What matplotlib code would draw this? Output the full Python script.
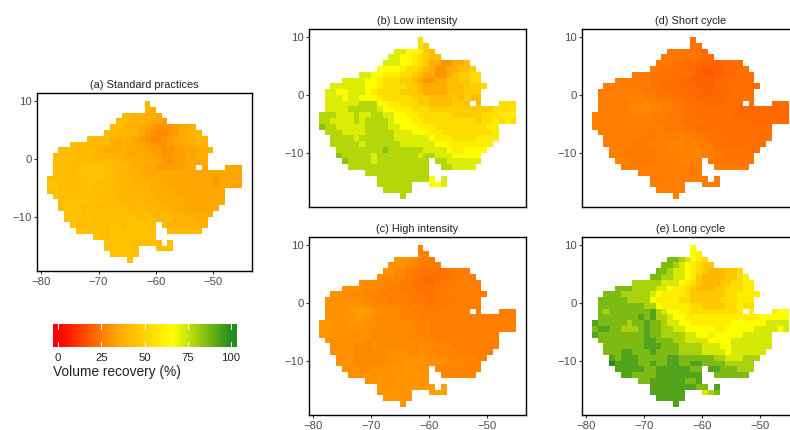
import numpy as np
import matplotlib
matplotlib.use("Agg")
import matplotlib.pyplot as plt
from matplotlib.colors import LinearSegmentedColormap

plt.rcParams["font.family"] = ["Liberation Sans", "DejaVu Sans"]

# first filled column of each row, rows go from lat 9.5 down to -17.5
row_start = [17, 17, 13, 12, 11, 10, 7, 4, 2, 1, 1, 1, 1, 0, 0, 0, 1, 2, 2, 3, 3, 4, 5, 8, 10, 10, 11, 14]

# volume recovery per 1 degree cell, read off the picture as levels 0-9, "." = no data
rows_a = ["5", "54", "66554 43", "77655 4332", "77655 43211 12345", "77665 53210 01234 55",
          "77665 45432 10012 34456 5", "77766 65434 43322 11233 4455",
          "77766 76544 44333 32211 22334 45", "77776 77666 55444 43321 12233 44",
          "77776 77777 66554 44332 12233 34", "77777 88887 76654 43322 22234 .3... 333",
          "77778 88887 76655 44333 33333 33333 333", "77777 77888 77666 55444 33333 33332 3333",
          "88777 77877 76665 55544 43333 33332 3333", "78777 77877 77666 55544 44333 33333 3",
          "87777 87777 76666 55544 44433 33333", "78888 77877 76666 55544 44333 3334",
          "78887 87777 77667 66555 44333 334", "88877 77778 77777 65665 54444 4",
          "78888 77877 78877 76675 55544", "87787 77887 88887 .6555 5555",
          "88777 78888 8887. .6666 66", "87788 88888 8", "88888 77787 .8", "88888 8...7 77", "88888", "8"]
rows_b = ["4", "43", "77665 32", "77665 4322", "77766 54311 00112", "66665 44321 00112 23",
          "77665 55443 21100 12334 4", "77776 65444 33210 01122 3344",
          "77777 76654 44433 21111 22233 34", "77667 77654 44433 32111 12223 33",
          "77767 76665 44444 33322 22323 22", "77777 78886 65544 43322 22332 .2... 444",
          "77778 88887 66555 44433 33333 33334 444", "88877 78778 87766 55444 44433 33344 4555",
          "88777 78788 88766 65544 44444 44344 5454", "98877 77788 88776 66555 44444 44445 5",
          "88877 77888 88777 66655 44444 44445", "88887 88888 87777 77655 54444 5555",
          "88888 78888 88777 77766 55555 555", "88888 88898 88888 77776 55666 6",
          "98888 87888 88887 88777 66666", "98888 78888 88888 .8877 7777",
          "88888 88888 8888. .8877 77", "88888 88888 8", "88888 88886 .7", "88888 8...6 67", "88888", "8"]
rows_c = ["3", "43", "76654 32", "76654 3322", "66554 32110 12233", "65544 32100 01122 33",
          "55544 44321 10012 22333 3", "66655 54433 22211 12233 3333",
          "66555 54443 33322 21122 23333 33", "66666 66544 43333 22212 22233 33",
          "66667 77655 44443 33222 23333 33", "66667 89876 55544 33332 33333 .3... 333",
          "66677 88765 55544 43333 33333 33333 333", "77666 77766 55555 54443 33333 33333 3333",
          "77666 66665 55555 54443 33333 33333 3333", "76666 65665 55555 44443 33333 33333 3",
          "76666 66555 55555 54443 33333 33333", "66665 55655 55555 65554 43333 3333",
          "66665 55555 66655 65544 44333 333", "66655 55556 66666 66554 44443 3",
          "66655 55566 66777 66655 54444", "66655 66677 67766 .5444 4444",
          "66666 66676 7777. .5444 44", "66766 77777 7", "77777 77788 .9", "77777 7...9 98", "77777", "7"]
rows_d = ["4", "44", "55444 32", "55554 4332", "55544 33211 12233", "55444 33210 01122 33",
          "55544 44333 21001 12233 3", "66555 54433 32211 11223 3333",
          "66655 55544 33332 21112 22333 33", "66666 66655 44433 32211 12233 33",
          "66666 77766 55544 33222 22333 33", "66666 67787 76655 43322 22333 .3... 222",
          "66666 77887 76655 44333 33332 22222 222", "66666 66777 66655 54433 33332 22222 2222",
          "66666 66666 65555 44443 33333 33222 2222", "66666 66666 66555 54433 33333 33333 3",
          "66666 66665 65666 55444 33333 33333", "66666 66556 66677 65544 43333 3333",
          "66666 55566 77776 76654 33333 333", "66655 55566 77777 76654 44443 3",
          "66555 55666 66777 76655 44444", "66655 55666 67776 .5444 4444",
          "66666 66666 6666. .6555 55", "66666 66665 5", "66666 66666 .6", "66666 6...6 66", "66666", "6"]
rows_e = ["4", "43", "77654 32", "77654 3211", "77655 43210 00112", "77665 54310 00011 23",
          "66666 55543 21000 11223 3", "77766 66554 33210 00112 2233",
          "77766 66654 33332 11111 12233 33", "77777 66664 33332 21111 12223 33",
          "77777 77766 43333 32211 11223 22", "76777 77778 65443 32222 22223 .3... 344",
          "77777 77878 66544 33333 33333 33344 444", "87777 76778 77655 44333 33334 44444 5555",
          "78877 66678 77665 54444 43344 44455 5545", "87777 77778 77666 65544 34444 45555 5",
          "77777 77788 77766 55554 44455 55555", "77777 77888 77766 66555 44555 5555",
          "77788 77787 77766 66555 54555 555", "87888 77777 88777 77766 55566 6",
          "98888 77877 88778 87777 66666", "88888 77888 88877 .8877 7666",
          "88777 78888 8888. .7777 77", "77888 88877 8", "88888 88877 .8", "88888 8...5 67", "88888", "8"]

# level 0 and step of each panel, in percent
level_low = {"a": 28, "b": 30, "c": 22, "d": 19, "e": 40}
level_step = {"a": 2, "b": 6, "c": 1.2, "d": 1.1, "e": 6.6}

titles = {"a": "(a) Standard practices", "b": "(b) Low intensity", "c": "(c) High intensity",
          "d": "(d) Short cycle", "e": "(e) Long cycle"}
panel_rows = {"a": rows_a, "b": rows_b, "c": rows_c, "d": rows_d, "e": rows_e}

# panel boxes in pixels: left, top, width, height
boxes = {"a": (37, 93, 215, 178), "b": (309, 29, 217, 178), "c": (309, 237, 217, 178),
         "d": (582, 29, 217, 178), "e": (582, 237, 217, 178)}
with_x_labels = ["a", "c", "e"]

FIG_W, FIG_H = 790, 430
cmap = LinearSegmentedColormap.from_list("recovery", ["red", "orange", "yellow", "forestgreen"])
x_edges = np.arange(-79, -44)
y_edges = np.arange(10, -19, -1)


def px_axes(fig, left, top, width, height):
    return fig.add_axes([left / FIG_W, 1 - (top + height) / FIG_H, width / FIG_W, height / FIG_H])


def decode(rows, low, step):
    grid = np.full((len(rows), len(x_edges) - 1), np.nan)
    for i, row in enumerate(rows):
        cells = row.replace(" ", "")
        for j, c in enumerate(cells):
            if c != ".":
                grid[i, row_start[i] + j] = low + step * int(c)
    return grid


fig = plt.figure(figsize=(FIG_W / 100, FIG_H / 100), dpi=100)

for name in panel_rows:
    ax = px_axes(fig, *boxes[name])
    grid = decode(panel_rows[name], level_low[name], level_step[name])
    ax.pcolormesh(x_edges, y_edges, grid, cmap=cmap, vmin=0, vmax=100, antialiased=False, linewidth=0)
    ax.set_xlim(-80.7, -43.3)
    ax.set_ylim(-19.4, 11.4)
    ax.set_yticks([-10, 0, 10])
    ax.tick_params(axis="both", labelsize=8.2, labelcolor="#4d4d4d", color="#333333", length=2.5, width=0.8, pad=1.5)
    if name in with_x_labels:
        ax.set_xticks([-80, -70, -60, -50])
    else:
        ax.set_xticks([])
    ax.set_title(titles[name], fontsize=7.9, color="#222222", pad=3.5)
    for s in ax.spines.values():
        s.set_linewidth(1.0)
        s.set_color("black")

# colour bar drawn by hand so the ticks sit inside like in the original
cax = px_axes(fig, 53, 324, 183, 23)
bar = np.linspace(-3, 103, 256).reshape(1, -1)
cax.imshow(bar, cmap=cmap, vmin=0, vmax=100, aspect="auto", extent=[-3, 103, 0, 1])
cax.set_yticks([])
cax.set_xticks([0, 25, 50, 75, 100])
cax.tick_params(axis="x", length=0, labelsize=8.2, labelcolor="#222222", pad=4)
for t in [0, 25, 50, 75, 100]:
    cax.plot([t, t], [0, 0.2], color="white", lw=0.7)
    cax.plot([t, t], [0.8, 1], color="white", lw=0.7)
cax.set_xlim(-3, 103)
cax.set_ylim(0, 1)
for s in cax.spines.values():
    s.set_visible(False)
fig.text(53 / FIG_W, 1 - 372 / FIG_H, "Volume recovery (%)", fontsize=9.9, color="#222222", va="center", ha="left")

plt.savefig("out.png", dpi=100)
